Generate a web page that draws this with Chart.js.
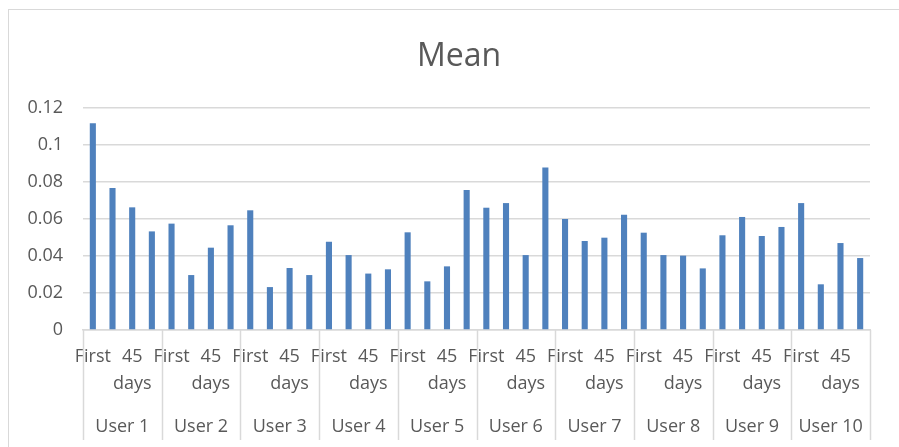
<!DOCTYPE html>
<html>
<head>
<meta charset="utf-8">
<script src="https://cdn.jsdelivr.net/npm/chart.js@4/dist/chart.umd.min.js"></script>
<style>
  html, body { margin: 0; padding: 0; background: #fff; overflow: hidden; }
  #frame { position: absolute; left: 8px; top: 9px; width: 1000px; height: 1000px; border: 1.5px solid #d9d9d9; }
  #chart { position: absolute; left: 0; top: 0; }
</style>
</head>
<body>
<div id="frame"></div>
<canvas id="chart" width="899" height="447"></canvas>
<script>
var users = ["User 1", "User 2", "User 3", "User 4", "User 5", "User 6", "User 7", "User 8", "User 9", "User 10"];
// only the 1st and 3rd period labels are visible in the original
var periods = ["First", "", "45 days", ""];
var meanValues = [
    0.1117, 0.0768, 0.0663, 0.0533,
    0.0575, 0.0297, 0.0445, 0.0566,
    0.0647, 0.0232, 0.0335, 0.0297,
    0.0477, 0.0405, 0.0305, 0.0328,
    0.0528, 0.0263, 0.0344, 0.0757,
    0.0661, 0.0686, 0.0405, 0.0879,
    0.0600, 0.0481, 0.0499, 0.0623,
    0.0526, 0.0405, 0.0402, 0.0333,
    0.0512, 0.0611, 0.0508, 0.0557,
    0.0686, 0.0247, 0.0470, 0.0389
];
var yTicks = [0, 0.02, 0.04, 0.06, 0.08, 0.1, 0.12];

var labels = [];
users.forEach(function (u) {
    periods.forEach(function (p) {
        labels.push(p.indexOf(" ") > 0 ? p.split(" ") : p);
    });
});

var gray = "#d9d9d9";
var textColor = "#595959";

// vertical separators between the user groups, below the plot
var groupLines = {
    id: "groupLines",
    afterDraw: function (chart) {
        var x = chart.scales.x;
        var ctx = chart.ctx;
        ctx.save();
        ctx.strokeStyle = gray;
        ctx.lineWidth = 1.5;
        for (var i = 0; i <= users.length; i++) {
            var px = Math.round(x.getPixelForValue(i * periods.length - 0.5)) + 0.5;
            ctx.beginPath();
            ctx.moveTo(px, chart.chartArea.bottom);
            ctx.lineTo(px, 440);
            ctx.stroke();
        }
        ctx.restore();
    }
};

Chart.defaults.font.family = "'Open Sans', sans-serif";
Chart.defaults.font.size = 18;
Chart.defaults.color = textColor;

var chart = new Chart(document.getElementById("chart").getContext("2d"), {
    type: "bar",
    data: {
        labels: labels,
        datasets: [{
            label: "Mean",
            data: meanValues,
            backgroundColor: "#4f81bd",
            barPercentage: 0.31,
            categoryPercentage: 1
        }]
    },
    options: {
        responsive: false,
        animation: false,
        layout: { padding: { left: 48, right: 29, top: 9, bottom: 7 } },
        plugins: {
            legend: { display: false },
            tooltip: { enabled: false },
            title: {
                display: true,
                text: "Mean",
                color: textColor,
                font: { size: 32, weight: "normal" },
                padding: { top: 29, bottom: 31.6 }
            }
        },
        scales: {
            y: {
                min: 0,
                max: 0.12,
                afterFit: function (s) {
                    s.width = 35;
                    // let the tick labels run into the left padding
                    s._computeLabelArea = function () { return undefined; };
                },
                afterBuildTicks: function (s) {
                    s.ticks = yTicks.map(function (v) { return { value: v }; });
                },
                ticks: {
                    padding: 20,
                    callback: function (v) { return String(Number(v.toFixed(2))); }
                },
                grid: { color: gray, lineWidth: 1.5, drawTicks: false },
                border: { display: false }
            },
            x: {
                afterFit: function (s) { s.height = 67; },
                grid: { display: false, drawTicks: false },
                border: { display: true, color: gray, width: 1.5 },
                ticks: {
                    autoSkip: false,
                    maxRotation: 0,
                    padding: 13,
                    font: { lineHeight: 1.5 }
                }
            },
            x2: {
                type: "category",
                position: "bottom",
                labels: users,
                offset: true,
                afterFit: function (s) { s.height = 43; },
                grid: { display: false, drawTicks: false },
                border: { display: false },
                ticks: { padding: 16, font: { lineHeight: 1.5 } }
            }
        }
    },
    plugins: [groupLines]
});
</script>
</body>
</html>
